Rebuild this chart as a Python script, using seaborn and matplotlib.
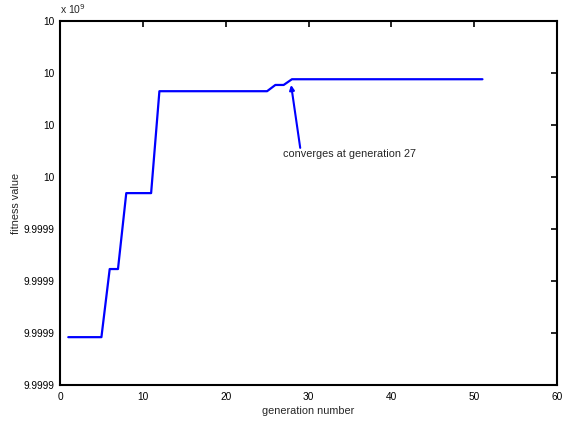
import numpy as np
import pandas as pd
import seaborn as sns
import matplotlib.pyplot as plt

# generations where the best fitness changes (line is drawn between them)
generation = [1, 5, 6, 7, 8, 11, 12, 25, 26, 27, 28, 51]
fitness = [9.9999292, 9.9999292, 9.9999423, 9.9999423, 9.9999569, 9.9999569,
           9.9999765, 9.9999765, 9.9999777, 9.9999777, 9.9999788, 9.9999788]

x_ticks = [0, 10, 20, 30, 40, 50, 60]
y_ticks = [9.99992, 9.99993, 9.99994, 9.99995, 9.99996, 9.99997, 9.99998, 9.99999]
y_labels = ["9.9999", "9.9999", "9.9999", "9.9999", "10", "10", "10", "10"]

data = pd.DataFrame({"generation": generation, "fitness": fitness})

sns.set_style("white")
plt.rcParams['font.family'] = ['Liberation Sans', 'DejaVu Sans']

fig = plt.figure(figsize=(5.64, 4.23), dpi=100)
ax = fig.add_axes([60 / 564, 38 / 423, 497 / 564, 364 / 423])

sns.lineplot(data=data, x="generation", y="fitness", color="#0000ff",
             linewidth=1.6, ax=ax)

ax.set_xlim(0, 60)
ax.set_ylim(y_ticks[0], y_ticks[-1])
ax.set_xticks(x_ticks)
ax.set_yticks(y_ticks)
ax.set_yticklabels(y_labels)
ax.tick_params(direction="in", length=4, width=1.2, labelsize=7.3, colors="black",
               top=True, right=True, pad=4)
ax.tick_params(axis="x", pad=5)
for s in ax.spines.values():
    s.set_color("black")
    s.set_linewidth(1.5)

ax.set_xlabel("generation number", fontsize=7.8, labelpad=3)
ax.set_ylabel("fitness value", fontsize=7.8, labelpad=2)

ax.text(0.0, 1.015, "x 10$^{9}$", transform=ax.transAxes, fontsize=7.5,
        ha="left", va="bottom")

ax.annotate("", xy=(27.9, 9.9999777), xytext=(29.0, 9.9999656),
            arrowprops=dict(arrowstyle="-|>", color="#0000ff", lw=1.5,
                            mutation_scale=7, shrinkA=0, shrinkB=0))
ax.text(26.9, 9.9999645, "converges at generation 27", fontsize=7.8,
        ha="left", va="center")

plt.savefig("out.png", dpi=100)
